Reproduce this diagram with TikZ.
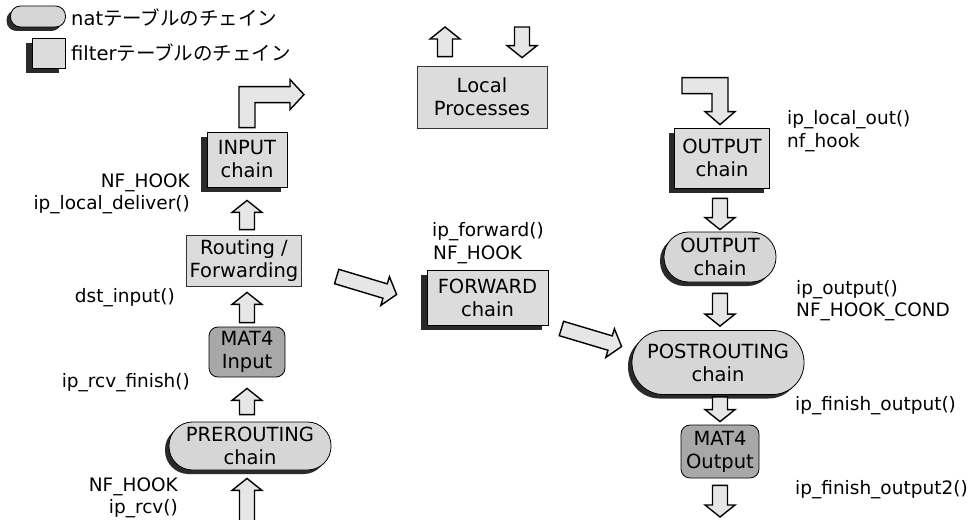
\documentclass[tikz,border=0pt]{standalone}
\usepackage{fontspec}
\setmainfont{DejaVu Sans}
\newfontfamily\cjk{Noto Sans CJK JP}
\usetikzlibrary{calc,shadows}
\definecolor{boxgray}{HTML}{DCDCDC}
\definecolor{pillgray}{HTML}{D6D6D6}
\definecolor{matgray}{HTML}{A8A8A8}
\definecolor{arrowgray}{HTML}{E6E6E6}
\definecolor{shadowgray}{HTML}{2A2A2A}
\tikzset{
  every node/.style={font=\fontsize{18.5}{22}\selectfont, align=center},
  boxtext/.style={font=\fontsize{19.5}{23}\selectfont},
  legendtext/.style={font=\fontsize{19.5}{23}\selectfont},
  filterbox/.style={rectangle, draw=black, line width=0.8pt, fill=boxgray, inner sep=3pt, boxtext,
    general shadow={shadow xshift=-6pt, shadow yshift=-5pt, fill=shadowgray}},
  natpill/.style={rectangle, draw=black, line width=0.8pt, fill=pillgray, inner sep=3pt, boxtext,
    general shadow={shadow xshift=-4pt, shadow yshift=-4pt, fill=shadowgray}},
  matbox/.style={rectangle, rounded corners=9pt, draw=black, line width=0.8pt, fill=matgray, inner sep=3pt, boxtext},
  plainbox/.style={rectangle, draw=black!80, line width=0.8pt, fill=boxgray, inner sep=3pt, boxtext},
  fnlabel/.style={inner sep=0pt},
  blockarrow/.style={draw=black, line width=1.4pt, fill=arrowgray, line join=miter},
}
\newcommand\blockarr[2]{%
  \coordinate (baS) at #1;
  \coordinate (baE) at #2;
  \coordinate (baB) at ($(baE)!12pt!(baS)$);
  \draw[blockarrow] ($(baS)!7.5pt!90:(baE)$) -- ($(baB)!7.5pt!90:(baE)$)
    -- ($(baB)!15pt!90:(baE)$) -- (baE) -- ($(baB)!15pt!-90:(baE)$)
    -- ($(baB)!7.5pt!-90:(baE)$) -- ($(baS)!7.5pt!-90:(baE)$) -- cycle;}
\begin{document}
\begin{tikzpicture}[x=1pt,y=-1pt]
\useasboundingbox (0,0) rectangle (968,519);

% legend
\node[natpill, rounded corners=10pt, minimum width=55pt, minimum height=21pt] (legnat) at (38,16.5) {};
\node[filterbox, minimum width=33pt, minimum height=30pt] (legfilter) at (48.5,53) {};
\node[fnlabel, legendtext, anchor=west] (legnattext) at (71,18) {nat\cjk{テーブルのチェイン}};
\node[fnlabel, legendtext, anchor=west] (legfiltertext) at (71,53) {filter\cjk{テーブルのチェイン}};

% left column
\node[filterbox, minimum width=80pt, minimum height=55pt] (input) at (247,159.5) {INPUT\\chain};
\node[plainbox, minimum width=114pt, minimum height=51pt] (routing) at (244,260.5) {Routing /\\Forwarding};
\node[matbox, minimum width=76pt, minimum height=50pt] (mat4in) at (247,352) {MAT4\\Input};
\node[natpill, rounded corners=23.5pt, minimum width=162pt, minimum height=48pt] (prerouting) at (250,446) {PREROUTING\\chain};

% middle
\node[plainbox, minimum width=130pt, minimum height=62pt] (local) at (482,97) {Local\\Processes};
\node[filterbox, minimum width=121pt, minimum height=55pt] (forward) at (487.5,297.5) {FORWARD\\chain};

% right column
\node[filterbox, minimum width=95pt, minimum height=60pt] (output) at (722,158) {OUTPUT\\chain};
\node[natpill, rounded corners=24.5pt, minimum width=112pt, minimum height=50pt] (outputnat) at (720,257) {OUTPUT\\chain};
\node[natpill, rounded corners=31.5pt, minimum width=172pt, minimum height=64pt] (postrouting) at (718,362.5) {POSTROUTING\\chain};
\node[matbox, minimum width=78pt, minimum height=53pt] (mat4out) at (720,451.5) {MAT4\\Output};

% labels
\node[fnlabel, anchor=east] (lnfin) at (190,183) {NF\_HOOK};
\node[fnlabel, anchor=east] (llocdel) at (190,205) {ip\_local\_deliver()};
\node[fnlabel, anchor=east] (ldst) at (175,298) {dst\_input()};
\node[fnlabel, anchor=east] (lrcvfin) at (190,383) {ip\_rcv\_finish()};
\node[fnlabel, anchor=east] (lnfpre) at (178,487) {NF\_HOOK};
\node[fnlabel, anchor=east] (lrcv) at (178,509) {ip\_rcv()};
\node[fnlabel, anchor=west] (lfwd) at (432,232) {ip\_forward()};
\node[fnlabel, anchor=west] (lnffwd) at (433,255) {NF\_HOOK};
\node[fnlabel, anchor=west] (llocout) at (787,120) {ip\_local\_out()};
\node[fnlabel, anchor=west] (lnfhook) at (787,143) {nf\_hook};
\node[fnlabel, anchor=west] (lipout) at (796,290) {ip\_output()};
\node[fnlabel, anchor=west] (lnfcond) at (796,312) {NF\_HOOK\_COND};
\node[fnlabel, anchor=west] (lfin) at (795,406) {ip\_finish\_output()};
\node[fnlabel, anchor=west] (lfin2) at (795,490) {ip\_finish\_output2()};

% free ends
\coordinate (inbottom) at (247,524);
\coordinate (outbottom) at (720,517);
\coordinate (uptip) at (445,27);
\coordinate (dnstart) at (522,27);

% left column arrows
\blockarr{([xshift=3pt,yshift=5pt]routing.north)}{([yshift=-13pt]input.south)}
\blockarr{([yshift=4pt]mat4in.north)}{([xshift=3pt,yshift=-6pt]routing.south)}
\blockarr{([xshift=-3pt,yshift=7pt]prerouting.north)}{([yshift=-11pt]mat4in.south)}
\blockarr{(inbottom)}{([xshift=-3pt,yshift=-8pt]prerouting.south)}

% bent arrow out of INPUT
\draw[blockarrow] ($(input.north)+(-8,-4)$) -- ($(input.north)+(-8,-45)$)
  -- ($(input.north)+(43,-45)$) -- ($(input.north)+(43,-52)$)
  -- ($(input.north)+(57,-37)$) -- ($(input.north)+(43,-22)$)
  -- ($(input.north)+(43,-29)$) -- ($(input.north)+(8,-29)$)
  -- ($(input.north)+(8,-4)$) -- cycle;

% local processes arrows
\blockarr{($(uptip |- local.north)+(0,-9)$)}{(uptip)}
\blockarr{(dnstart)}{($(dnstart |- local.north)+(0,-8)$)}

% diagonal arrows
\blockarr{($(routing.east)+(35,16)$)}{($(forward.west)+(-30,-3)$)}
\blockarr{($(forward.east)+(13,31)$)}{($(postrouting.west)+(-10,-16)$)}

% bent arrow into OUTPUT
\draw[blockarrow] ($(output.north)+(-40,-50)$) -- ($(output.north)+(6,-50)$)
  -- ($(output.north)+(6,-16)$) -- ($(output.north)+(13,-16)$)
  -- ($(output.north)+(-2,-3)$) -- ($(output.north)+(-17,-16)$)
  -- ($(output.north)+(-10,-16)$) -- ($(output.north)+(-10,-34)$)
  -- ($(output.north)+(-40,-34)$) -- cycle;

% right column arrows
\blockarr{([xshift=-2pt,yshift=-10pt]output.south)}{([yshift=2pt]outputnat.north)}
\blockarr{([yshift=-11pt]outputnat.south)}{([xshift=2pt,yshift=4pt]postrouting.north)}
\blockarr{([xshift=2pt,yshift=-2pt]postrouting.south)}{([yshift=3pt]mat4out.north)}
\blockarr{([yshift=-7pt]mat4out.south)}{(outbottom)}
\end{tikzpicture}
\end{document}
